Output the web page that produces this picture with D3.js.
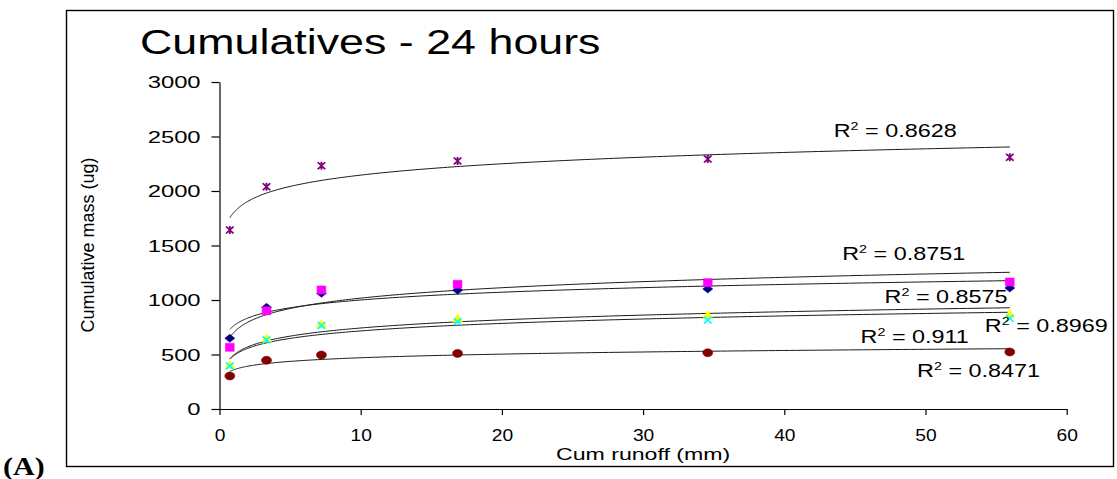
<!DOCTYPE html>
<html>
<head>
<meta charset="utf-8">
<script src="https://cdn.jsdelivr.net/npm/d3@7"></script>
<style>
  body { margin: 0; background: #fff; }
  text { font-family: "Liberation Sans", Arial, sans-serif; fill: #000; }
</style>
</head>
<body>
<div id="chart"></div>
<script>
// Cumulative runoff (mm) at each sampling time
const runoff = [0.73, 3.33, 7.22, 16.86, 34.58, 55.97];

// Cumulative mass (ug) for each series
const seriesNavy    = [649, 933, 1061, 1089, 1101, 1110];
const seriesMagenta = [566, 901, 1092, 1144, 1159, 1165];
const seriesYellow  = [404, 649, 780, 832, 862, 872];
const seriesCyan    = [394, 633, 767, 800, 817, 832];
const seriesPurple  = [1642, 2039, 2232, 2275, 2294, 2309];
const seriesDarkRed = [303, 447, 495, 510, 516, 523];

// R squared values as printed next to each trendline
const r2Labels = ["0.8575", "0.8751", "0.8969", "0.911", "0.8628", "0.8471"];

const xTicks = [0, 10, 20, 30, 40, 50, 60];
const yTicks = [0, 500, 1000, 1500, 2000, 2500, 3000];

// series styling (Excel 2003 default marker order)
const series = [
	{ values: seriesNavy,    color: "#000080", marker: "diamond" },
	{ values: seriesMagenta, color: "#FF00FF", marker: "square" },
	{ values: seriesYellow,  color: "#FFFF00", marker: "triangle" },
	{ values: seriesCyan,    color: "#00FFFF", marker: "x" },
	{ values: seriesPurple,  color: "#800080", marker: "star" },
	{ values: seriesDarkRed, color: "#800000", marker: "circle" }
];

// where each R² label sits, in data units (left edge, baseline)
const labelAnchor = [
	[47.1, 970], [44.1, 1367], [54.2, 709], [45.4, 603], [43.5, 2495], [49.4, 291]
];

const W = 1117, H = 479;

const svg = d3.select("#chart")
	.append("svg")
	.attr("width", W)
	.attr("height", H);

// outer frame
svg.append("rect")
	.attr("x", 66.5)
	.attr("y", 10.5)
	.attr("width", 1047)
	.attr("height", 456)
	.attr("fill", "none")
	.attr("stroke", "#000")
	.attr("stroke-width", 1.4);

const x = d3.scaleLinear().domain([0, 60]).range([219.5, 1066.7]);
const y = d3.scaleLinear().domain([0, 3000]).range([409, 82]);

// text stretched horizontally like the source image
function addText(px, py, str, size, sx, anchor) {
	return svg.append("text")
		.attr("transform", `translate(${px},${py}) scale(${sx},1)`)
		.attr("text-anchor", anchor || "start")
		.style("font-size", size + "px")
		.text(str);
}

// title
addText(140, 54, "Cumulatives - 24 hours", 35, 1.28);

// Y axis
const yAxis = svg.append("g")
	.attr("transform", `translate(${x(0)},0)`)
	.call(d3.axisLeft(y).tickValues(yTicks).tickSize(8).tickSizeOuter(0).tickFormat(d3.format("d")));
yAxis.selectAll("text")
	.attr("x", -13.5)
	.attr("dy", "0.35em")
	.attr("transform", "scale(1.4,1)")
	.style("font-size", "17px")
	.style("font-family", "Liberation Sans, Arial, sans-serif");

// X axis
const xAxis = svg.append("g")
	.attr("transform", `translate(0,${y(0)})`)
	.call(d3.axisBottom(x).tickValues(xTicks).tickSize(6).tickSizeOuter(0));
xAxis.selectAll(".tick text")
	.attr("y", 32)
	.attr("dy", 0)
	.attr("transform", "scale(1.2,1)")
	.style("font-size", "16px")
	.style("font-family", "Liberation Sans, Arial, sans-serif");
svg.selectAll(".domain, .tick line").attr("stroke", "#000").attr("stroke-width", 1.2);

// axis titles
addText((x(0) + x(60)) / 2, 460, "Cum runoff (mm)", 17, 1.36, "middle");
svg.append("text")
	.attr("transform", `translate(94,245) rotate(-90)`)
	.attr("text-anchor", "middle")
	.style("font-size", "18px")
	.text("Cumulative mass (ug)");

// panel letter
svg.append("text")
	.attr("transform", "translate(3,475) scale(1.2,1)")
	.style("font-family", "'Liberation Serif', 'DejaVu Serif', serif")
	.style("font-weight", "bold")
	.style("font-size", "25px")
	.text("(A)");

// logarithmic least squares fit y = a ln(x) + b
function logFit(xs, ys) {
	const lx = xs.map(Math.log);
	const mx = d3.mean(lx), my = d3.mean(ys);
	let sxy = 0, sxx = 0;
	lx.forEach((v, i) => { sxy += (v - mx) * (ys[i] - my); sxx += (v - mx) * (v - mx); });
	const a = sxy / sxx;
	return { a: a, b: my - a * mx };
}

const line = d3.line()
	.x(d => x(d[0]))
	.y(d => y(d[1]));

const xMin = d3.min(runoff), xMax = d3.max(runoff);

// trendlines, sampled from the fitted function over the data range
series.forEach(s => {
	const f = logFit(runoff, s.values);
	const pts = d3.range(0, 201).map(i => {
		const xv = xMin + (xMax - xMin) * Math.pow(i / 200, 2.2);
		return [xv, f.a * Math.log(xv) + f.b];
	});
	svg.append("path")
		.datum(pts)
		.attr("fill", "none")
		.attr("stroke", "#1a1a1a")
		.attr("stroke-width", 1)
		.attr("d", line);
});

// marker shapes (drawn at 1:1, then stretched like the source)
const shapes = {
	diamond: "M0,-4L4,0L0,4L-4,0Z",
	square: "M-3.5,-4H3.5V4H-3.5Z",
	triangle: "M0,-4.5L4,3.5H-4Z",
	x: "M-3,-3.5L3,3.5M-3,3.5L3,-3.5",
	star: "M-3,-3.5L3,3.5M-3,3.5L3,-3.5M0,-4V4",
	circle: "M-4,0A4,4 0 1,0 4,0A4,4 0 1,0 -4,0Z"
};

series.forEach(s => {
	const open = s.marker === "x" || s.marker === "star";
	svg.append("g")
		.selectAll("path")
		.data(s.values)
		.enter()
		.append("path")
		.attr("transform", (d, i) => `translate(${x(runoff[i])},${y(d)}) scale(1.25,1)`)
		.attr("d", shapes[s.marker])
		.attr("fill", open ? "none" : s.color)
		.attr("stroke", s.color)
		.attr("stroke-width", open ? 1.5 : 0.5);
});

// R² labels
series.forEach((s, i) => {
	const t = svg.append("text")
		.attr("transform", `translate(${x(labelAnchor[i][0])},${y(labelAnchor[i][1])}) scale(1.3,1)`)
		.style("font-size", "18px");
	t.append("tspan").text("R");
	t.append("tspan").attr("dy", -7).style("font-size", "11px").text("2");
	t.append("tspan").attr("dy", 7).text(" = " + r2Labels[i]);
});
</script>
</body>
</html>
